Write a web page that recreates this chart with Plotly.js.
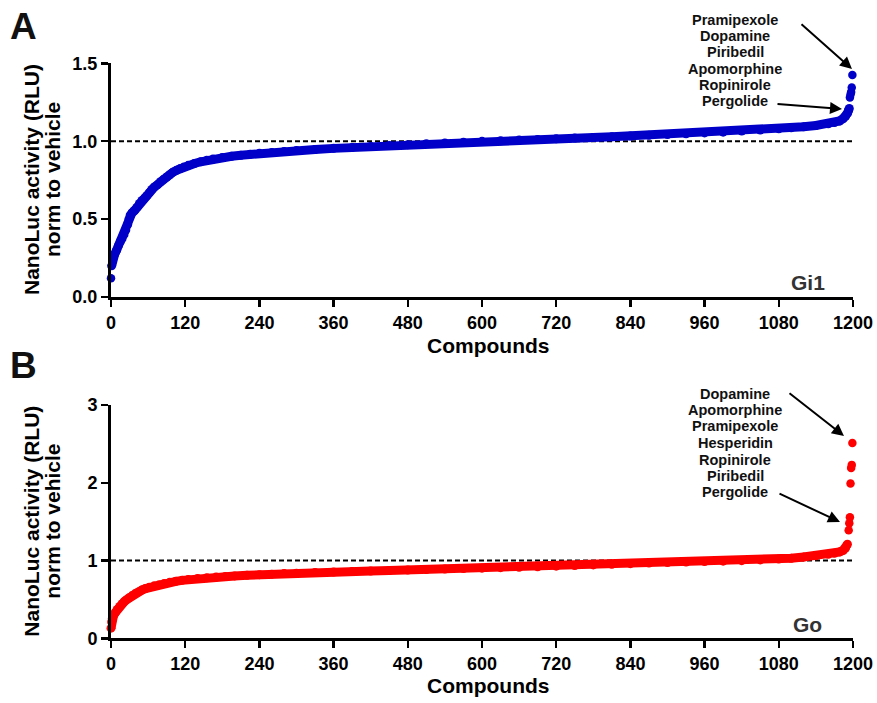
<!DOCTYPE html>
<html>
<head>
<meta charset="utf-8">
<script src="https://cdn.plot.ly/plotly-3.0.1.min.js"></script>
<style>html,body{margin:0;padding:0;background:#fff}#chart{width:877px;height:703px}</style>
</head>
<body>
<div id="chart"></div>
<script>
// ---------- DATA ----------
// Panel A: Gi1, sorted compounds (rank -> normalised NanoLuc activity)
const gi1Rank = [1,3,6,9,12,15,18,21,24,27,29,31,34,38,42,46,50,54,58,62,66,70,75,80,85,90,95,100,106,112,118,125,135,145,155,165,180,195,210,225,240,260,280,300,330,360,390,420,450,480,510,540,570,600,630,660,690,720,750,780,810,840,870,900,930,960,990,1020,1050,1080,1100,1120,1140,1160,1170,1178,1184,1188,1191,1193,1194];
const gi1Value = [0.20,0.25,0.275,0.30,0.33,0.355,0.375,0.40,0.43,0.465,0.50,0.525,0.54,0.555,0.575,0.60,0.62,0.635,0.65,0.67,0.69,0.705,0.72,0.74,0.755,0.77,0.785,0.80,0.813,0.825,0.835,0.845,0.857,0.868,0.877,0.885,0.895,0.903,0.91,0.916,0.922,0.928,0.934,0.94,0.947,0.954,0.96,0.966,0.972,0.978,0.984,0.989,0.994,0.999,1.003,1.007,1.011,1.016,1.02,1.024,1.028,1.033,1.038,1.043,1.048,1.053,1.058,1.065,1.072,1.08,1.086,1.093,1.101,1.112,1.12,1.13,1.145,1.16,1.18,1.20,1.21];
const gi1IsolatedRank = [0,1195,1196,1197,1198,1199];
const gi1IsolatedValue = [0.12,1.28,1.30,1.315,1.345,1.425];
const gi1Hits = ["Pramipexole","Dopamine","Piribedil","Apomorphine","Ropinirole","Pergolide"];

// Panel B: Go
const goRank = [0,1,2,4,7,10,14,18,22,26,30,35,40,45,50,56,62,70,78,86,95,105,115,125,140,155,170,185,200,220,240,260,280,300,330,360,390,420,450,480,510,540,570,600,630,660,690,720,750,780,810,840,870,900,930,960,990,1020,1050,1080,1100,1120,1140,1160,1170,1178,1184,1188,1191];
const goValue = [0.13,0.21,0.25,0.29,0.33,0.37,0.41,0.445,0.475,0.50,0.525,0.555,0.58,0.60,0.62,0.64,0.655,0.675,0.69,0.705,0.72,0.733,0.745,0.755,0.768,0.778,0.787,0.795,0.802,0.81,0.818,0.825,0.832,0.838,0.846,0.853,0.86,0.866,0.872,0.878,0.884,0.89,0.896,0.902,0.908,0.914,0.92,0.928,0.936,0.944,0.952,0.96,0.967,0.974,0.98,0.986,0.992,0.998,1.008,1.02,1.03,1.045,1.06,1.08,1.093,1.11,1.13,1.16,1.21];
const goIsolatedRank = [1193,1194,1195,1196,1197,1198,1199];
const goIsolatedValue = [1.39,1.48,1.555,1.99,2.19,2.23,2.51];
const goHits = ["Dopamine","Apomorphine","Pramipexole","Hesperidin","Ropinirole","Piribedil","Pergolide"];

const xTicks = [0,120,240,360,480,600,720,840,960,1080,1200];

// ---------- STYLE ----------
const W = 877, H = 703;
const FONT = "Liberation Sans, Arial, Helvetica, sans-serif";
const BLUE = "#0000C8", RED = "#FF0000";
const px = x => x / W;
const py = y => 1 - y / H;

const traces = [
  {x: gi1Rank, y: gi1Value, xaxis: "x", yaxis: "y", type: "scatter", mode: "lines+markers",
   line: {color: BLUE, width: 9}, marker: {color: BLUE, size: 9}, cliponaxis: false, showlegend: false, name: "Gi1"},
  {x: gi1IsolatedRank, y: gi1IsolatedValue, xaxis: "x", yaxis: "y", type: "scatter", mode: "markers",
   marker: {color: BLUE, size: 8.5}, cliponaxis: false, showlegend: false, name: "Gi1"},
  {x: goRank, y: goValue, xaxis: "x2", yaxis: "y2", type: "scatter", mode: "lines+markers",
   line: {color: RED, width: 9}, marker: {color: RED, size: 9}, cliponaxis: false, showlegend: false, name: "Go"},
  {x: goIsolatedRank, y: goIsolatedValue, xaxis: "x2", yaxis: "y2", type: "scatter", mode: "markers",
   marker: {color: RED, size: 8.5}, cliponaxis: false, showlegend: false, name: "Go"}
];

const tickFont = {family: FONT, size: 18, color: "#000", weight: "bold"};
const xAxisBase = {
  range: [0, 1200], tickmode: "array", tickvals: xTicks, ticktext: xTicks.map(String),
  showline: true, linecolor: "#000", linewidth: 3, ticks: "outside", ticklen: 7, tickwidth: 2.5,
  tickcolor: "#000", tickfont: tickFont, showgrid: false, zeroline: false, fixedrange: true
};
const yAxisBase = {
  showline: true, linecolor: "#000", linewidth: 3, ticks: "outside", ticklen: 7, tickwidth: 2.5,
  tickcolor: "#000", tickfont: tickFont, showgrid: false, zeroline: false, fixedrange: true
};

const titleFont = {family: FONT, size: 21, color: "#000", weight: "bold"};
const annotations = [];
function addText(text, x, y, font, extra) {
  annotations.push(Object.assign({text: text, x: px(x), y: py(y), xref: "paper", yref: "paper",
    showarrow: false, xanchor: "center", yanchor: "middle", font: font}, extra || {}));
}
function addArrow(tailX, tailY, tipX, tipY) {
  annotations.push({text: "", x: px(tipX), y: py(tipY), xref: "paper", yref: "paper",
    ax: tailX - tipX, ay: tailY - tipY, showarrow: true, arrowhead: 2, arrowsize: 1.2,
    arrowwidth: 2, arrowcolor: "#000", standoff: 0, startstandoff: 0});
}

// Panel letters
addText("A", 23, 27, {family: FONT, size: 37, color: "#111", weight: "bold"});
addText("B", 23, 366, {family: FONT, size: 37, color: "#111", weight: "bold"});
// Y titles
[180, 521.7].forEach(cy => {
  addText("NanoLuc activity (RLU)", 32, cy, titleFont, {textangle: -90});
  addText("norm to vehicle", 53, cy, titleFont, {textangle: -90});
});
// X titles
addText("Compounds", 488, 345, titleFont);
addText("Compounds", 488, 685, titleFont);
// Receptor tags
addText("Gi1", 808, 282, {family: FONT, size: 21, color: "#333", weight: "bold"});
addText("Go", 807, 624, {family: FONT, size: 21, color: "#333", weight: "bold"});
// Hit names
const nameFont = {family: FONT, size: 14.5, color: "#111", weight: "bold"};
const gi1NameY = [20, 36, 52.5, 69, 85, 101];
gi1Hits.forEach((n, i) => addText(n, 735, gi1NameY[i], nameFont, {borderpad: 0}));
const goNameY = [393.5, 410, 426.5, 443, 459.5, 476, 492];
goHits.forEach((n, i) => addText(n, 735, goNameY[i], nameFont, {borderpad: 0}));
// Arrows
addArrow(800, 23, 852, 69);
addArrow(776, 104, 842, 109);
addArrow(788, 392, 844, 436);
addArrow(778, 493, 840, 522);

const layout = {
  width: W, height: H, margin: {l: 0, r: 0, t: 0, b: 0},
  paper_bgcolor: "#fff", plot_bgcolor: "#fff", showlegend: false,
  font: {family: FONT, color: "#000"},
  xaxis: Object.assign({}, xAxisBase, {domain: [px(111), px(853)], anchor: "y"}),
  yaxis: Object.assign({}, yAxisBase, {domain: [py(297), py(63.3)], anchor: "x", range: [0, 1.5],
    tickmode: "array", tickvals: [0, 0.5, 1, 1.5], ticktext: ["0.0", "0.5", "1.0", "1.5"]}),
  xaxis2: Object.assign({}, xAxisBase, {domain: [px(111), px(853)], anchor: "y2"}),
  yaxis2: Object.assign({}, yAxisBase, {domain: [py(638.3), py(405)], anchor: "x2", range: [0, 3],
    tickmode: "array", tickvals: [0, 1, 2, 3], ticktext: ["0", "1", "2", "3"]}),
  shapes: [
    {type: "line", xref: "x", yref: "y", x0: 0, x1: 1200, y0: 1, y1: 1, layer: "below",
     line: {color: "#000", width: 2, dash: "5px,3px"}},
    {type: "line", xref: "x2", yref: "y2", x0: 0, x1: 1200, y0: 1, y1: 1, layer: "below",
     line: {color: "#000", width: 2, dash: "5px,3px"}}
  ],
  annotations: annotations
};

Plotly.newPlot("chart", traces, layout, {displayModeBar: false, staticPlot: true});
</script>
</body>
</html>
